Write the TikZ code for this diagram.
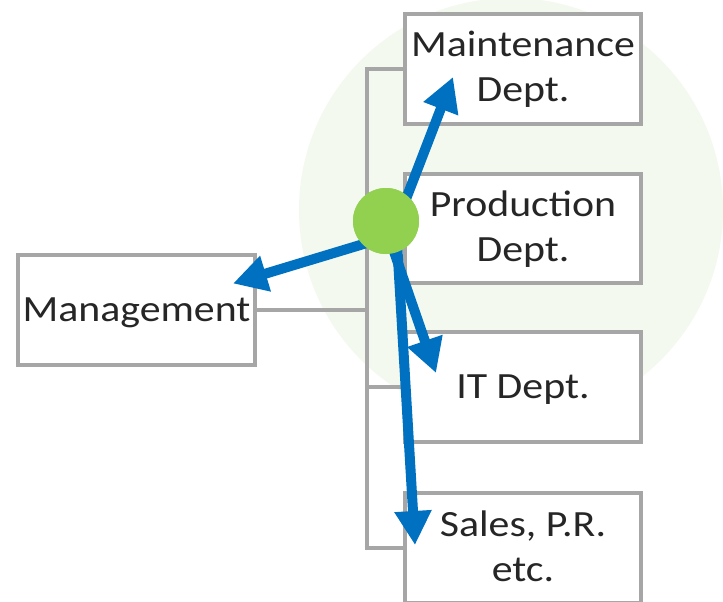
\documentclass[tikz,border=0pt]{standalone}
\usepackage{fontspec}
\setmainfont{Carlito}[FakeStretch=1.13]
\usetikzlibrary{arrows.meta}
\definecolor{boxgray}{HTML}{A6A6A6}
\definecolor{bglight}{HTML}{F3F9EE}
\definecolor{hubgreen}{HTML}{92D050}
\definecolor{arrblue}{HTML}{0070C0}
\definecolor{txtdark}{HTML}{262626}
\tikzset{
  box/.style={draw=boxgray, line width=4pt, fill=white, rectangle,
    minimum width=236pt, minimum height=110pt, inner sep=0pt,
    align=center, text=txtdark, font=\fontsize{37pt}{45pt}\selectfont,
    text height=23.8pt, text depth=0pt},
  twoline/.style={text height=66pt, text depth=0pt},
  conn/.style={draw=boxgray, line width=4pt, line join=miter},
  arr/.style={draw=arrblue, line width=10pt,
    -{Triangle[length=34pt, width=35pt]}},
  hubdot/.style={circle, fill=hubgreen, minimum size=66pt, inner sep=0pt}
}
\begin{document}
\begin{tikzpicture}[x=1pt, y=-1pt]
\useasboundingbox (0,0) rectangle (723,602);
\clip (0,0) rectangle (723,602);
\fill[white] (0,0) rectangle (723,602);
% background disc
\fill[bglight] (511,210) circle[radius=212];
% boxes
\node[box, twoline] (maint) at (523,69) {Maintenance\\Dept.};
\node[box, twoline, minimum height=109pt] (prod) at (523,228.5) {Production\\Dept.};
\node[box] (it) at (523,387) {IT Dept.};
\node[box, twoline] (sales) at (523,548) {Sales, P.R.\\etc.};
\node[box, minimum width=237pt] (mgmt) at (136.5,310) {Management};
% gray tree connectors
\coordinate (tk) at (366.5,310);
\draw[conn] (maint.west) -| (tk) |- (sales.west);
\draw[conn] (mgmt.east) -- (tk);
\draw[conn] (tk |- prod.west) -- (prod.west);
\draw[conn] (tk |- it.west) -- (it.west);
% hub
\node[hubdot] (hub) at (386,221) {};
% arrow tips
\coordinate (tM) at (453,77);
\coordinate (tG) at (233,283.5);
\coordinate (tI) at (436,373);
\coordinate (tS) at (415,545);
\draw[arr] ([shift={(10,4)}]hub.center) -- (tM);
\draw[arr] ([shift={(4,15)}]hub.center) -- (tG);
\draw[arr] ([shift={(4,19)}]hub.center) -- (tI);
\draw[arr] ([shift={(10,4)}]hub.center) -- (tS);
% hub on top
\node[hubdot] at (hub.center) {};
\end{tikzpicture}
\end{document}
